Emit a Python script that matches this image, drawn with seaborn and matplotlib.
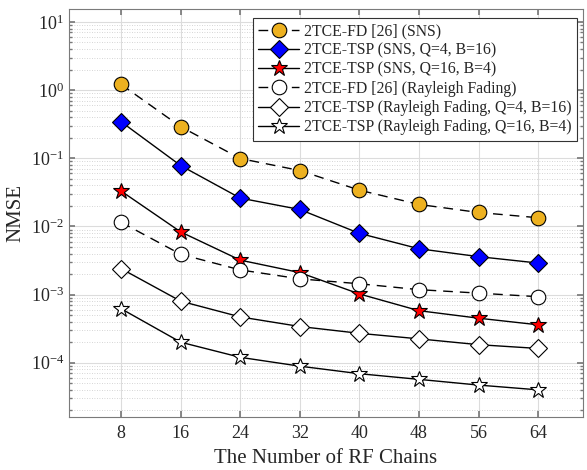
import numpy as np
import pandas as pd
import matplotlib
matplotlib.use("Agg")
import matplotlib.pyplot as plt
import seaborn as sns
from matplotlib.ticker import FixedLocator, LogLocator, NullFormatter, LogFormatterMathtext

rf_chains = [8, 16, 24, 32, 40, 48, 56, 64]
y_ticks = [1e-4, 1e-3, 1e-2, 1e-1, 1e0, 1e1]

fd_sns = [1.21, 0.29, 0.099, 0.066, 0.034, 0.021, 0.016, 0.0134]
tsp_sns_q4 = [0.343, 0.078, 0.026, 0.0177, 0.0079, 0.0047, 0.0036, 0.0029]
tsp_sns_q16 = [0.033, 0.0083, 0.0032, 0.0021, 0.00102, 0.00058, 0.00045, 0.00036]
fd_ray = [0.0115, 0.0039, 0.0023, 0.0017, 0.00144, 0.00118, 0.00105, 0.00093]
tsp_ray_q4 = [0.0024, 0.00080, 0.00047, 0.00034, 0.00027, 0.000224, 0.000184, 0.000162]
tsp_ray_q16 = [0.00062, 0.00020, 0.00012, 0.000089, 0.000069, 0.000057, 0.000047, 0.000040]

labels = [
    "2TCE-FD [26] (SNS)",
    "2TCE-TSP (SNS, Q=4, B=16)",
    "2TCE-TSP (SNS, Q=16, B=4)",
    "2TCE-FD [26] (Rayleigh Fading)",
    "2TCE-TSP (Rayleigh Fading, Q=4, B=16)",
    "2TCE-TSP (Rayleigh Fading, Q=16, B=4)",
]
series = [fd_sns, tsp_sns_q4, tsp_sns_q16, fd_ray, tsp_ray_q4, tsp_ray_q16]

styles = [
    dict(marker="o", mfc="#EDB120", ls=(0, (7, 5)), ms=10.5),
    dict(marker="D", mfc="#0000FF", ls="-", ms=9),
    dict(marker="*", mfc="#FF0000", ls="-", ms=12),
    dict(marker="o", mfc="white", ls=(0, (7, 5)), ms=10.5),
    dict(marker="D", mfc="white", ls="-", ms=9),
    dict(marker="*", mfc="white", ls="-", ms=12),
]

sns.set_theme(style="ticks")
plt.rcParams["font.family"] = ["Liberation Serif", "DejaVu Serif"]
plt.rcParams["mathtext.fontset"] = "stix"

fig = plt.figure(figsize=(5.87, 4.70), dpi=100)
ax = fig.add_axes([0.1175, 0.1128, 0.8755, 0.8682])

for lab, vals, st in zip(labels, series, styles):
    df = pd.DataFrame({"rf": rf_chains, "nmse": vals})
    sns.lineplot(
        data=df, x="rf", y="nmse", ax=ax, label=lab,
        color="black", linewidth=1.0, linestyle=st["ls"],
        marker=st["marker"], markersize=st["ms"],
        markerfacecolor=st["mfc"], markeredgecolor="black",
        markeredgewidth=0.8,
    )

ax.set_yscale("log")
ax.set_xlim(1, 70)
ax.set_ylim(1.6e-5, 15.5)
ax.set_xticks(rf_chains)
ax.set_xticklabels([str(v) for v in rf_chains])
ax.yaxis.set_major_locator(FixedLocator(y_ticks))
ax.yaxis.set_major_formatter(LogFormatterMathtext())
ax.yaxis.set_minor_locator(LogLocator(base=10, subs=np.arange(2, 10), numticks=20))
ax.yaxis.set_minor_formatter(NullFormatter())

ax.grid(True, which="major", color="#dcdcdc", linewidth=0.8, linestyle="-")
ax.grid(True, which="minor", axis="y", color="#c8c8c8", linewidth=0.6, linestyle=(0, (1, 2)))
ax.set_axisbelow(True)

for sp in ax.spines.values():
    sp.set_color("#7a7a7a")
    sp.set_linewidth(0.8)
ax.tick_params(which="both", direction="in", top=True, right=True, colors="#7a7a7a",
               labelsize=13, labelcolor="#262626")
ax.tick_params(which="major", length=4)
ax.tick_params(which="minor", length=2)
ax.tick_params(axis="x", pad=6)

ax.set_xlabel("The Number of RF Chains", fontsize=15, color="#262626", labelpad=5)
ax.set_ylabel("NMSE", fontsize=15, color="#262626", labelpad=4)

leg = ax.legend(loc="upper right", bbox_to_anchor=(577 / 587, 1 - 18 / 470),
                bbox_transform=fig.transFigure, borderaxespad=0,
                fontsize=11.3, frameon=True, fancybox=False,
                edgecolor="#333333", framealpha=1, borderpad=0.35, labelspacing=0.2,
                handlelength=2.6, handletextpad=0.3)
leg.get_frame().set_linewidth(0.8)

fig.savefig("out.png", dpi=100)
